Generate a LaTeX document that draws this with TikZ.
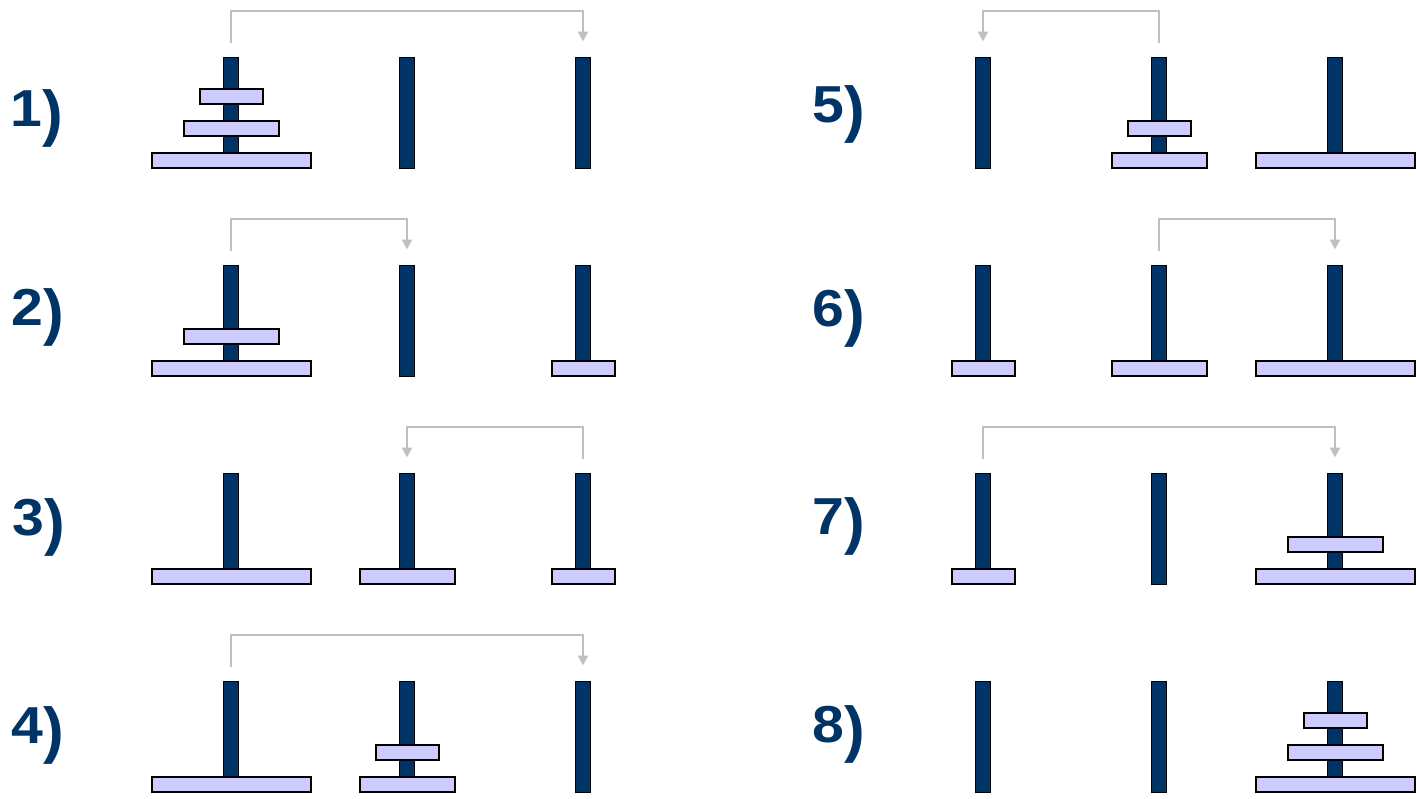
\documentclass[tikz,border=0pt]{standalone}
\usepackage{fontspec}
\setmainfont{Liberation Sans}
\usetikzlibrary{arrows.meta}
\definecolor{pegblue}{HTML}{003366}
\definecolor{diskfill}{HTML}{CCCCFF}
\definecolor{movegray}{HTML}{BFBFBF}
\newcommand{\steptext}[1]{\scalebox{1.1}[1]{#1}\raisebox{-8pt}{\fontsize{62}{62}\selectfont)}}
\tikzset{
  peg/.style={draw=black, line width=1.5pt, fill=pegblue, minimum width=15pt, minimum height=111pt, inner sep=0pt, outer sep=0pt},
  disk/.style={draw=black, line width=2pt, fill=diskfill, minimum height=15pt, inner sep=0pt, outer sep=0pt},
  dS/.style={disk, minimum width=63pt},
  dM/.style={disk, minimum width=95pt},
  dL/.style={disk, minimum width=159pt},
  lv0/.style={yshift=8pt},
  lv1/.style={yshift=40pt},
  lv2/.style={yshift=72pt},
  steplabel/.style={text=pegblue, font=\fontsize{52}{52}\selectfont\bfseries, inner sep=0pt, anchor=base west},
  move/.style={draw=movegray, line width=2pt, -{Triangle[length=10pt,width=10pt]}, shorten <=15pt, shorten >=16pt}
}
\begin{document}
\begin{tikzpicture}[x=1pt,y=-1pt]
\useasboundingbox (0,0) rectangle (1416,798);
\foreach \k/\c/\r in {1/0/0,2/0/1,3/0/2,4/0/3,5/1/0,6/1/1,7/1/2,8/1/3} {
  \foreach \j/\n in {0/a,1/b,2/c} {
    \node[peg] (p\k\n) at ({231+176*\j+752*\c},{113+208*\r}) {};
  }
}
% labels
\node[steplabel] (l1) at (10,126) {\steptext{1}};
\node[steplabel] (l2) at (11,325) {\steptext{2}};
\node[steplabel] (l3) at (12,535) {\steptext{3}};
\node[steplabel] (l4) at (11,743) {\steptext{4}};
\node[steplabel] (l5) at (812,122) {\steptext{5}};
\node[steplabel] (l6) at (812,326) {\steptext{6}};
\node[steplabel] (l7) at (812,534) {\steptext{7}};
\node[steplabel] (l8) at (812,742) {\steptext{8}};
% panel 1
\node[dL] (d1L) at ([lv0]p1a.south) {};
\node[dM] (d1M) at ([lv1]p1a.south) {};
\node[dS] (d1S) at ([lv2]p1a.south) {};
% panel 2
\node[dL] (d2L) at ([lv0]p2a.south) {};
\node[dM] (d2M) at ([lv1]p2a.south) {};
\node[dS] (d2S) at ([lv0]p2c.south) {};
% panel 3
\node[dL] (d3L) at ([lv0]p3a.south) {};
\node[dM] (d3M) at ([lv0]p3b.south) {};
\node[dS] (d3S) at ([lv0]p3c.south) {};
% panel 4
\node[dL] (d4L) at ([lv0]p4a.south) {};
\node[dM] (d4M) at ([lv0]p4b.south) {};
\node[dS] (d4S) at ([lv1]p4b.south) {};
% panel 5
\node[dL] (d5L) at ([lv0]p5c.south) {};
\node[dM] (d5M) at ([lv0]p5b.south) {};
\node[dS] (d5S) at ([lv1]p5b.south) {};
% panel 6
\node[dL] (d6L) at ([lv0]p6c.south) {};
\node[dM] (d6M) at ([lv0]p6b.south) {};
\node[dS] (d6S) at ([lv0]p6a.south) {};
% panel 7
\node[dL] (d7L) at ([lv0]p7c.south) {};
\node[dM] (d7M) at ([lv1]p7c.south) {};
\node[dS] (d7S) at ([lv0]p7a.south) {};
% panel 8
\node[dL] (d8L) at ([lv0]p8c.south) {};
\node[dM] (d8M) at ([lv1]p8c.south) {};
\node[dS] (d8S) at ([lv2]p8c.south) {};
% moves
\draw[move] (p1a.north) -- ++(0,-47) -| (p1c.north);
\draw[move] (p2a.north) -- ++(0,-47) -| (p2b.north);
\draw[move] (p3c.north) -- ++(0,-47) -| (p3b.north);
\draw[move] (p4a.north) -- ++(0,-47) -| (p4c.north);
\draw[move] (p5b.north) -- ++(0,-47) -| (p5a.north);
\draw[move] (p6b.north) -- ++(0,-47) -| (p6c.north);
\draw[move] (p7a.north) -- ++(0,-47) -| (p7c.north);
\end{tikzpicture}
\end{document}
